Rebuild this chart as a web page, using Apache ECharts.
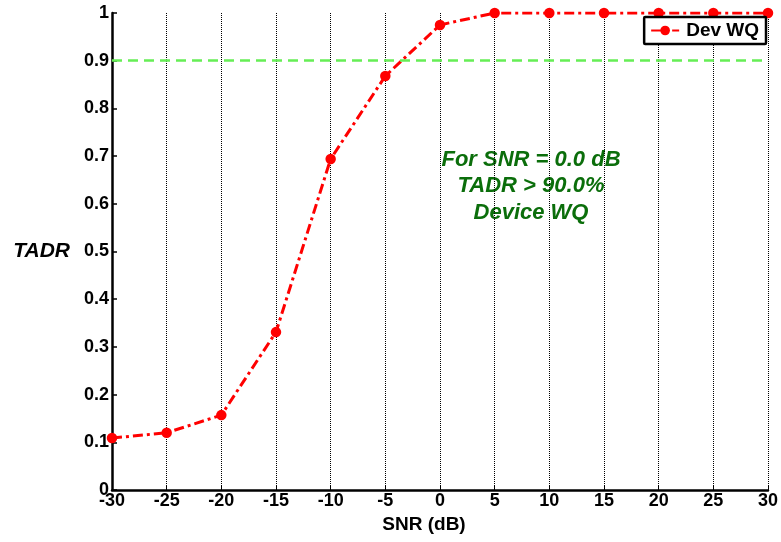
<!DOCTYPE html>
<html>
<head>
<meta charset="utf-8">
<script src="https://cdn.jsdelivr.net/npm/echarts@6/dist/echarts.min.js"></script>
<style>
  html, body { margin: 0; padding: 0; background: #fff; }
  #chart { width: 781px; height: 542px; }
</style>
</head>
<body>
<div id="chart"></div>
<script>
// SNR sweep (dB) and measured detection rate for device WQ
const snr = [-30, -25, -20, -15, -10, -5, 0, 5, 10, 15, 20, 25, 30];
const tadr = [0.109, 0.120, 0.157, 0.331, 0.694, 0.868, 0.975, 1, 1, 1, 1, 1, 1];
const threshold = 0.9;
const seriesName = 'Dev WQ';
const noteLines = ['For SNR = 0.0 dB', 'TADR > 90.0%', 'Device WQ'];

const FONT = '"Liberation Sans", Arial, sans-serif';
const chart = echarts.init(document.getElementById('chart'));

chart.setOption({
  animation: false,
  backgroundColor: '#ffffff',
  grid: { left: 112, right: 13, top: 13, bottom: 52, containLabel: false },
  xAxis: {
    type: 'value',
    min: -30, max: 30, interval: 5,
    name: 'SNR (dB)',
    nameLocation: 'middle',
    nameGap: 21,
    nameTextStyle: { color: '#000', fontFamily: FONT, fontWeight: 'bold', fontSize: 19, padding: [0, 32, 0, 0] },
    axisLine: { show: true, onZero: false, lineStyle: { color: '#000', width: 2.5 } },
    axisTick: { show: true, inside: true, length: 4, lineStyle: { color: '#000', width: 1 } },
    axisLabel: { color: '#000', fontFamily: FONT, fontWeight: 'bold', fontSize: 18, margin: 2 },
    splitLine: { show: true, lineStyle: { color: '#000', width: 1, type: [1, 1] } }
  },
  yAxis: {
    type: 'value',
    min: 0, max: 1, interval: 0.1,
    name: 'TADR',
    nameLocation: 'middle',
    nameRotate: 0,
    nameGap: 42,
    nameTextStyle: { color: '#000', fontFamily: FONT, fontWeight: 'bold', fontStyle: 'italic', fontSize: 21 },
    axisLine: { show: true, onZero: false, lineStyle: { color: '#000', width: 2.5 } },
    axisTick: { show: true, inside: true, length: 5, lineStyle: { color: '#000', width: 1.5 } },
    axisLabel: { color: '#000', fontFamily: FONT, fontWeight: 'bold', fontSize: 18, margin: 3 },
    splitLine: { show: false }
  },
  legend: {
    right: 15, top: 17,
    backgroundColor: '#ffffff',
    borderColor: '#000', borderWidth: 2.5, borderRadius: 1,
    padding: [4, 7, 4, 6],
    itemWidth: 28, itemHeight: 12,
    itemGap: 6,
    textStyle: { color: '#000', fontFamily: FONT, fontWeight: 'bold', fontSize: 19, padding: [0, 0, 0, 2] },
    data: [seriesName]
  },
  graphic: [{
    type: 'group',
    z: 1,
    children: [
      { type: 'rect', shape: { x: 380, y: 140, width: 286, height: 91 }, style: { fill: '#ffffff' } },
      {
        type: 'text', x: 531, y: 186,
        style: {
          text: noteLines.join('\n'),
          fill: '#0b6e0b',
          font: 'italic bold 22px ' + FONT,
          align: 'center', verticalAlign: 'middle',
          lineHeight: 26.5
        }
      }
    ]
  }],
  series: [{
    name: seriesName,
    type: 'line',
    z: 3,
    data: snr.map((x, i) => [x, tadr[i]]),
    symbol: 'circle',
    symbolSize: 10.5,
    itemStyle: { color: '#ff0000' },
    lineStyle: { color: '#ff0000', width: 3, type: [10, 4, 3, 4] },
    markLine: {
      silent: true,
      symbol: 'none',
      label: { show: false },
      lineStyle: { color: '#66ee55', width: 2.5, type: [10, 6] },
      data: [{ yAxis: threshold }]
    }
  }]
});
</script>
</body>
</html>
